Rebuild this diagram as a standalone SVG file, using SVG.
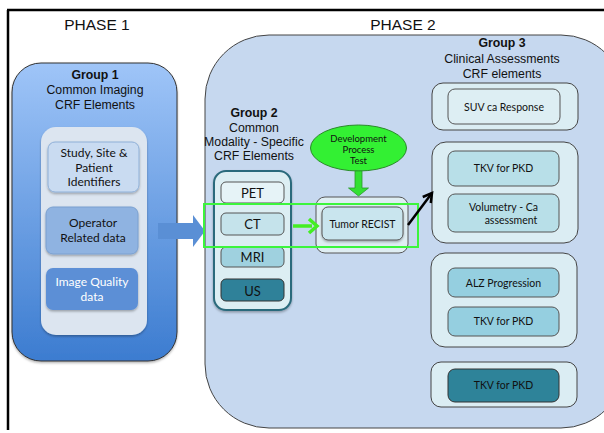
<svg xmlns="http://www.w3.org/2000/svg" width="604" height="433" viewBox="0 0 604 433">
<defs>
<linearGradient id="g1" x1="0" y1="0" x2="0" y2="1">
<stop offset="0" stop-color="#9fc5f8"/>
<stop offset="1" stop-color="#3c7cd0"/>
</linearGradient>
<filter id="sh" x="-10%" y="-10%" width="130%" height="140%">
<feDropShadow dx="0" dy="1.5" stdDeviation="1" flood-color="#000" flood-opacity="0.3"/>
</filter>
<marker id="blk" viewBox="0 0 10 10" refX="8" refY="5" markerWidth="5" markerHeight="5" orient="auto">
<path d="M1,1 L8,5 L1,9" fill="none" stroke="#000" stroke-width="2"/>
</marker>
</defs>
<style>
.hd{font-family:"Liberation Sans",Arial,sans-serif;fill:#111;text-anchor:middle}
.ph{font-size:15.5px}
.g{font-size:12.3px}
.b{font-weight:bold}
.c{font-family:Lato,"Open Sans",sans-serif;fill:#111;text-anchor:middle}
.box{stroke:#555;stroke-width:1}
.out{fill:#dbedf3;stroke:#444;stroke-width:1}
</style>
<rect width="604" height="433" fill="#fff"/>
<path d="M7,10 H604 M8,10 V430" fill="none" stroke="#000" stroke-width="2.5"/>
<text class="hd ph" x="97" y="30">PHASE 1</text>
<text class="hd ph" x="403" y="30">PHASE 2</text>

<g id="phase2">
<rect x="205" y="35" width="420" height="393" rx="64" fill="#c6d8ef" stroke="#444" stroke-width="1"/>
</g>

<g id="group1">
<rect x="12" y="63" width="165" height="298" rx="29" fill="url(#g1)" stroke="#333" stroke-width="1" filter="url(#sh)"/>
<text class="hd g b" x="95" y="79">Group 1</text>
<text class="hd g" x="95" y="94">Common Imaging</text>
<text class="hd g" x="95" y="109">CRF Elements</text>
<rect x="41" y="127" width="106" height="208" rx="15" fill="#dce5f0" filter="url(#sh)"/>
</g>
<g id="study">
<rect x="48" y="142" width="91" height="50" rx="7" fill="#c9dbf1" stroke="#8fb0d8" stroke-width="1" filter="url(#sh)"/>
<text class="c" x="94" y="157" font-size="12">Study, Site &amp;</text>
<text class="c" x="94" y="172" font-size="12">Patient</text>
<text class="c" x="94" y="186" font-size="12">Identifiers</text>
</g>
<g id="operator">
<rect x="46" y="207" width="92" height="47" rx="7" fill="#8fb3e1" stroke="#7aa0d0" stroke-width="1" filter="url(#sh)"/>
<text class="c" x="93" y="227" font-size="12">Operator</text>
<text class="c" x="93" y="242" font-size="12">Related data</text>
</g>
<g id="imagequality">
<rect x="46" y="268" width="92" height="42" rx="7" fill="#5b8fd6" filter="url(#sh)"/>
<text class="c" x="92" y="286" font-size="12" fill="#fff" style="fill:#fff">Image Quality</text>
<text class="c" x="92" y="301" font-size="12" style="fill:#fff">data</text>
</g>

<g id="group2">
<text class="hd g b" x="254" y="117">Group 2</text>
<text class="hd g" x="254" y="132">Common</text>
<text class="hd g" x="254" y="146">Modality - Specific</text>
<text class="hd g" x="254" y="160">CRF Elements</text>
<rect x="214" y="171" width="77" height="139" rx="12" fill="#dceef3" stroke="#2b6a7c" stroke-width="2" filter="url(#sh)"/>
</g>
<g id="pet">
<rect x="221" y="182" width="63" height="21" rx="5" fill="#e6f3f7" stroke="#555" stroke-width="1"/>
<text class="c" x="252.5" y="198" font-size="13">PET</text>
</g>
<g id="ct">
<rect x="221" y="213" width="63" height="22" rx="5" fill="#c5e3eb" stroke="#555" stroke-width="1"/>
<text class="c" x="252.5" y="229" font-size="13">CT</text>
</g>
<g id="mri">
<rect x="221" y="247" width="63" height="20" rx="5" fill="#9fd1df" stroke="#555" stroke-width="1"/>
<text class="c" x="252.5" y="262" font-size="13">MRI</text>
</g>
<g id="us">
<rect x="221" y="279" width="63" height="22" rx="5" fill="#2f8199" stroke="#333" stroke-width="1"/>
<text class="c" x="252.5" y="296" font-size="13">US</text>
</g>

<g id="tumor">
<rect x="316" y="197" width="92" height="56" rx="9" fill="#dfeef3" stroke="#555" stroke-width="1"/>
<rect x="322" y="207" width="81" height="33" rx="6" fill="#c9e5ee" stroke="#555" stroke-width="1" filter="url(#sh)"/>
<text class="c" x="362.5" y="228" font-size="10.5">Tumor RECIST</text>
</g>

<g id="devtest">
<ellipse cx="358.5" cy="148" rx="48" ry="23" fill="#33f033" stroke="#2a8a2a" stroke-width="1"/>
<text class="c" x="358.5" y="142" font-size="9.5">Development</text>
<text class="c" x="358.5" y="153" font-size="9.5">Process</text>
<text class="c" x="358.5" y="164" font-size="9.5">Test</text>
</g>

<g id="group3">
<text class="hd g b" x="502" y="47">Group 3</text>
<text class="hd g" x="502" y="63">Clinical Assessments</text>
<text class="hd g" x="502" y="78">CRF elements</text>
</g>
<g id="suv">
<rect class="out" x="432" y="83" width="146" height="47" rx="11"/>
<rect class="box" x="448" y="89" width="112" height="35" rx="7" fill="#ddeef3"/>
<text class="c" x="504" y="111" font-size="10.5">SUV ca Response</text>
</g>
<g id="pkdgroup">
<rect class="out" x="432" y="142" width="146" height="101" rx="14"/>
<rect class="box" x="448" y="151" width="111" height="35" rx="7" fill="#b8dfe8"/>
<text class="c" x="503.5" y="172" font-size="10.5">TKV for PKD</text>
<rect class="box" x="448" y="194" width="111" height="38" rx="7" fill="#b8dfe8"/>
<text class="c" x="503.5" y="211" font-size="10.5">Volumetry - Ca</text>
<text class="c" x="511" y="224" font-size="10.5">assessment</text>
</g>
<g id="alzgroup">
<rect class="out" x="431" y="253" width="146" height="94" rx="14"/>
<rect class="box" x="448" y="268" width="111" height="29" rx="7" fill="#95cfe0"/>
<text class="c" x="503.5" y="287" font-size="10.5">ALZ Progression</text>
<rect class="box" x="448" y="307" width="111" height="29" rx="7" fill="#95cfe0"/>
<text class="c" x="503.5" y="325" font-size="10.5">TKV for PKD</text>
</g>
<g id="lastgroup">
<rect class="out" x="431" y="362" width="146" height="45" rx="10"/>
<rect x="448" y="369" width="111" height="33" rx="7" fill="#2e8399" stroke="#333" stroke-width="1"/>
<text class="c" x="503.5" y="389" font-size="10.5">TKV for PKD</text>
</g>

<g id="connectors">
<path d="M158,223 H193 V215 L205,231 L193,247 V239 H158 Z" fill="#5a8fd5"/>
<rect x="204" y="204" width="214" height="43" fill="none" stroke="#3cf53c" stroke-width="2"/>
<path d="M293,226 H312" stroke="#44ee22" stroke-width="3.5"/>
<path d="M309,219 L317,226 L309,233" fill="none" stroke="#44ee22" stroke-width="3.5"/>
<path d="M355,171 V188 H348.5 L358.5,196 L368.5,188 H362 V171 Z" fill="#33e033" stroke="#2a9a2a" stroke-width="0.8"/>
<path d="M408,225 L432,193" stroke="#000" stroke-width="2.5" marker-end="url(#blk)"/>
</g>
</svg>
